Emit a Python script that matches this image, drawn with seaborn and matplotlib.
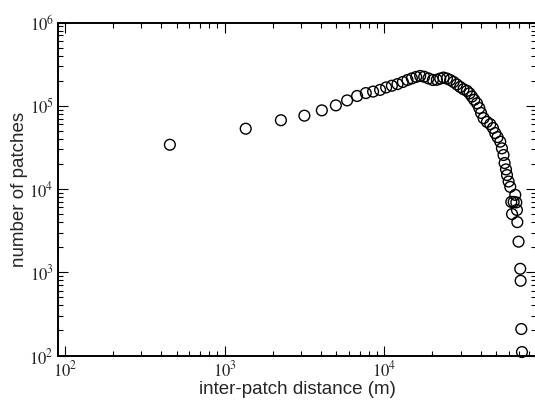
import matplotlib
matplotlib.use('Agg')
import matplotlib.pyplot as plt
import numpy as np
import pandas as pd
import seaborn as sns
from matplotlib.ticker import FuncFormatter, LogLocator

# Values
distance = [454, 1355, 2250, 3157, 4060, 4970, 5845, 6750, 7650, 8500,
            9400, 10260, 11140, 12080, 13060, 13960, 14870, 15820, 16760,
            17750, 18890, 20130, 21320, 22380, 23460, 24640, 25840, 27100,
            28460, 29840, 31300, 32890, 34130, 35330, 36530, 38000, 39290,
            40300, 41810, 43880, 46020, 47840, 49440, 51130, 53170, 54450,
            55730, 56600, 57740, 58600, 59960, 61400, 62300, 63000, 64500,
            66000, 67000, 67600, 68000, 69200, 70900, 71300, 72000, 72700]
patches = [34000, 53000, 67000, 76000, 88000, 101000, 116000, 131000,
           142000, 148000, 155000, 166000, 174000, 182000, 193000, 204000,
           213000, 222000, 228000, 223000, 213000, 204000, 205000, 212000,
           218000, 212000, 204000, 193000, 180000, 168000, 158000, 151000,
           141000, 129000, 118000, 107000, 94000, 82000, 71000, 64000,
           60000, 54000, 47000, 42000, 37000, 30800, 25600, 20500, 17200,
           14700, 12300, 10600, 7000, 5000, 7000, 8500, 6900, 5600, 4000,
           2330, 1100, 790, 208, 110]

df = pd.DataFrame({'distance': distance, 'patches': patches})

sns.set_style('ticks')
plt.rcParams['font.family'] = ['Liberation Sans', 'DejaVu Sans']
plt.rcParams['mathtext.fontset'] = 'stix'

fig = plt.figure(figsize=(5.35, 4.01), dpi=100)
ax = fig.add_axes([58 / 535, 1 - 355.5 / 401, 478 / 535, 333 / 401])

sns.scatterplot(data=df, x='distance', y='patches', ax=ax, marker='o',
                s=60, facecolors='none', edgecolors='black', linewidth=1.0,
                zorder=3, clip_on=False)

ax.set(xscale='log', yscale='log', xlim=(90.5, 8.9e4), ylim=(1e2, 1e6))
ax.set_xlabel('inter-patch distance (m)', fontsize=13.5, labelpad=1)
ax.set_ylabel('number of patches', fontsize=13.5)
ax.yaxis.set_label_coords(-0.063, 0.5)

fmt = FuncFormatter(lambda v, p: r'$10^{%d}$' % round(np.log10(v)))
for axis in (ax.xaxis, ax.yaxis):
    axis.set_major_locator(LogLocator(base=10, numticks=10))
    axis.set_minor_locator(LogLocator(base=10, subs=np.arange(2, 10),
                                      numticks=20))
    axis.set_major_formatter(fmt)

ax.tick_params(which='both', direction='in', top=True, right=True,
               color='black', width=0.8, labelsize=12)
ax.tick_params(which='major', length=7, pad=3)
ax.tick_params(which='minor', length=3.5)
for s in ax.spines.values():
    s.set_linewidth(1.4)
    s.set_color('black')

fig.savefig('out.png', dpi=100)
